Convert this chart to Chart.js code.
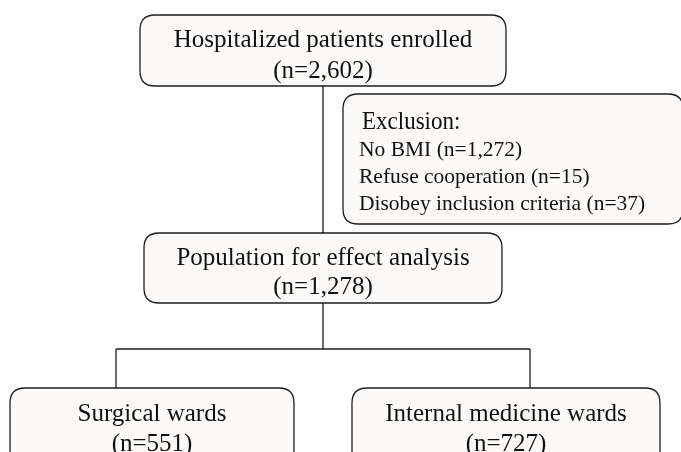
<!DOCTYPE html>
<html lang="en">
<head>
  <meta charset="UTF-8">
  <title>Patient flow</title>
  <script src="https://cdn.jsdelivr.net/npm/chart.js"></script>
  <style>
    html, body { margin: 0; padding: 0; background: #ffffff; }
    #wrap { position: relative; width: 681px; height: 452px; }
  </style>
</head>
<body>
  <div id="wrap"><canvas id="flow"></canvas></div>

  <script>
    // flow stages (text + counts)
    const stageNames = ['Hospitalized patients enrolled', 'Population for effect analysis', 'Surgical wards', 'Internal medicine wards'];
    const stageCounts = ['2,602', '1,278', '551', '727'];

    // exclusions
    const exclusionTitle = 'Exclusion:';
    const exclusionReasons = ['No BMI', 'Refuse cooperation', 'Disobey inclusion criteria'];
    const exclusionCounts = ['1,272', '15', '37'];

    // layout in scale units (x 0..681, y 0..452 top-down)
    const boxes = [
      { x0: 140, x1: 506, y0: 15, y1: 86, lines: [47, 78] },
      { x0: 144, x1: 502, y0: 233, y1: 303, lines: [265, 294] },
      { x0: 10, x1: 294, y0: 388, y1: 480, lines: [421, 451] },
      { x0: 352, x1: 660, y0: 388, y1: 480, lines: [421, 451] }
    ];
    const exclBox = { x0: 343, x1: 683, y0: 94, y1: 224, tx: 362, lx: 359, lines: [129, 156, 183, 210] };

    const connectors = [
      [{ x: 323, y: 86 }, { x: 323, y: 233 }],
      [{ x: 323, y: 303 }, { x: 323, y: 349 }],
      [{ x: 116, y: 349 }, { x: 530, y: 349 }],
      [{ x: 116, y: 349 }, { x: 116, y: 388 }],
      [{ x: 530, y: 349 }, { x: 530, y: 388 }]
    ];

    const lineColor = '#1e1e1e';
    const boxFill = '#fbfaf8';
    const serif = '"Liberation Serif", "DejaVu Serif", serif';

    function roundBox(ctx, x, y, w, h, r) {
      ctx.beginPath();
      ctx.moveTo(x + r, y);
      ctx.lineTo(x + w - r, y);
      ctx.quadraticCurveTo(x + w, y, x + w, y + r);
      ctx.lineTo(x + w, y + h - r);
      ctx.quadraticCurveTo(x + w, y + h, x + w - r, y + h);
      ctx.lineTo(x + r, y + h);
      ctx.quadraticCurveTo(x, y + h, x, y + h - r);
      ctx.lineTo(x, y + r);
      ctx.quadraticCurveTo(x, y, x + r, y);
      ctx.closePath();
    }

    const flowBoxes = {
      id: 'flowBoxes',
      afterDatasetsDraw(chart) {
        const ctx = chart.ctx;
        const xs = chart.scales.x, ys = chart.scales.y;
        const px = v => xs.getPixelForValue(v);
        const py = v => ys.getPixelForValue(v);

        ctx.save();
        ctx.lineWidth = 1.3;
        ctx.strokeStyle = lineColor;

        function drawBox(b) {
          const x = px(b.x0), y = py(b.y0);
          const w = px(b.x1) - x, h = py(b.y1) - y;
          roundBox(ctx, x, y, w, h, 15);
          ctx.fillStyle = boxFill;
          ctx.fill();
          ctx.stroke();
        }

        boxes.forEach((b, i) => {
          drawBox(b);
          const cx = px((b.x0 + b.x1) / 2);
          ctx.fillStyle = '#111';
          ctx.textAlign = 'center';
          ctx.textBaseline = 'alphabetic';
          ctx.font = '25px ' + serif;
          ctx.fillText(stageNames[i], cx, py(b.lines[0]));
          ctx.fillText('(n=' + stageCounts[i] + ')', cx, py(b.lines[1]));
        });

        drawBox(exclBox);
        ctx.fillStyle = '#111';
        ctx.textAlign = 'left';
        // title is a bit narrower than the plain font
        ctx.save();
        ctx.translate(px(exclBox.tx), py(exclBox.lines[0]));
        ctx.scale(0.92, 1);
        ctx.font = '25px ' + serif;
        ctx.fillText(exclusionTitle, 0, 0);
        ctx.restore();
        ctx.font = '21.5px ' + serif;
        exclusionReasons.forEach((r, i) => {
          ctx.fillText(r + ' (n=' + exclusionCounts[i] + ')', px(exclBox.lx), py(exclBox.lines[i + 1]));
        });
        ctx.restore();
      }
    };

    new Chart(document.getElementById('flow'), {
      type: 'scatter',
      data: {
        datasets: connectors.map(seg => ({
          data: seg,
          showLine: true,
          borderColor: lineColor,
          borderWidth: 1.3,
          pointRadius: 0,
          fill: false
        }))
      },
      options: {
        responsive: true,
        maintainAspectRatio: false,
        animation: false,
        layout: { padding: 0 },
        plugins: { legend: { display: false }, tooltip: { enabled: false } },
        scales: {
          x: { type: 'linear', min: 0, max: 681, display: false },
          y: { type: 'linear', min: 0, max: 452, reverse: true, display: false }
        }
      },
      plugins: [flowBoxes]
    });
  </script>
</body>
</html>
